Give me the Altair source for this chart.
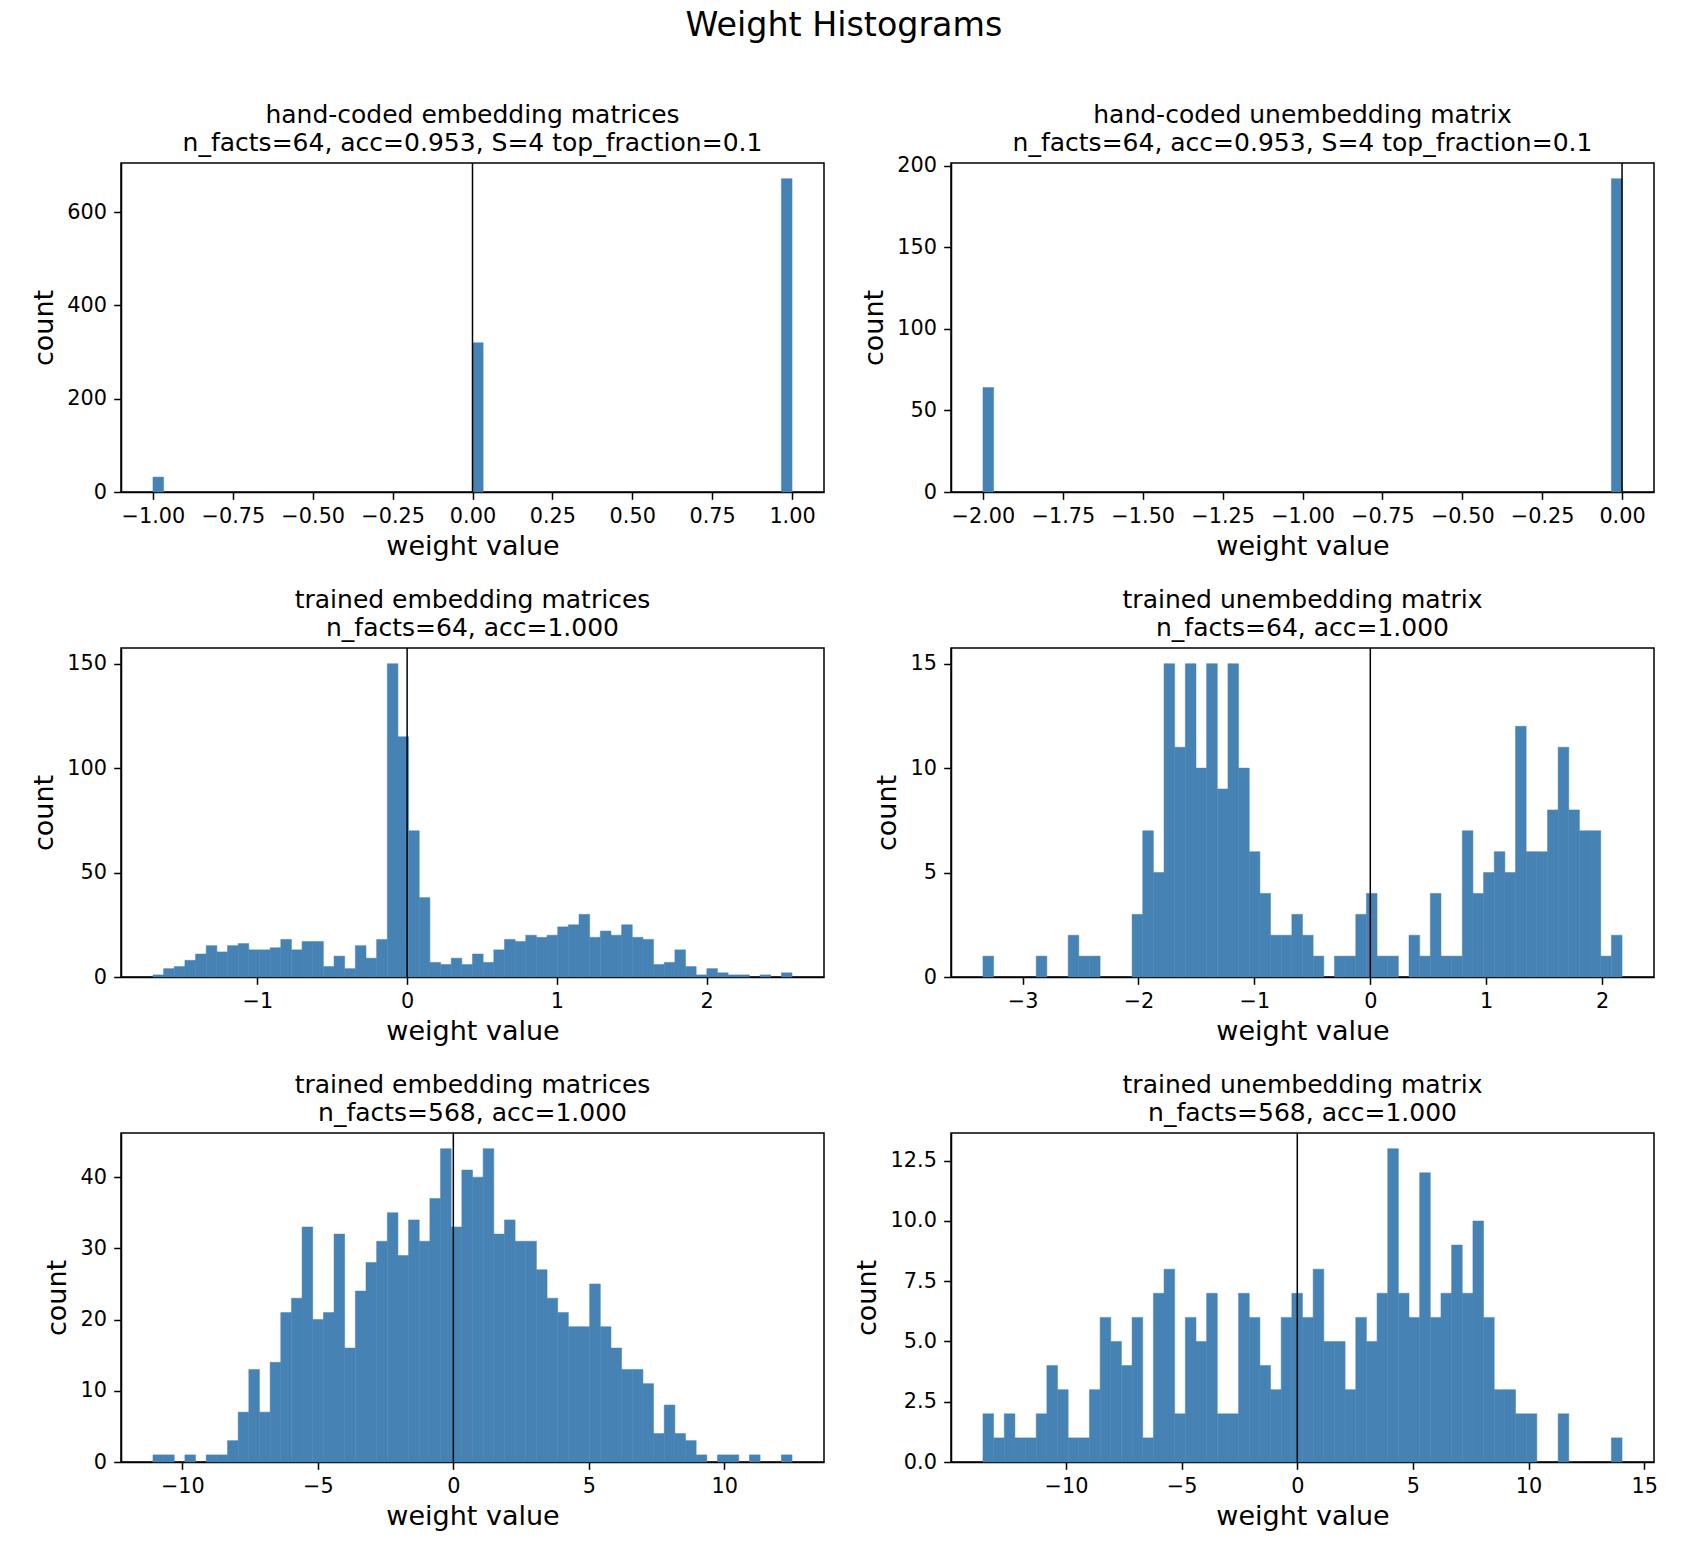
import altair as alt
import pandas as pd

FONT = "DejaVu Sans"
BAR_COLOR = "#4682b4"
N_BINS = 60

# ---- hand-coded embedding matrices: 60 bins over [-1, 1], only occupied bins listed
hc_emb_range = (-1.0, 1.0)
hc_emb_bins = [0, 30, 59]
hc_emb_counts = [32, 320, 672]

# ---- hand-coded unembedding matrix: 60 bins over [-2, 0]
hc_unemb_range = (-2.0, 0.0)
hc_unemb_bins = [0, 59]
hc_unemb_counts = [64, 192]

# ---- trained embedding matrices, n_facts=64
tr64_emb_range = (-1.697, 2.570)
tr64_emb_counts = [1, 4, 5, 8, 11, 15, 12, 15, 16, 13, 13, 14, 18, 13, 17, 17, 5, 10, 4, 15,
                   9, 18, 150, 115, 70, 38, 7, 6, 9, 6, 11, 7, 13, 18, 17, 20, 19, 20, 24, 25,
                   30, 19, 22, 20, 25, 19, 18, 6, 7, 13, 5, 1, 4, 2, 1, 1, 0, 1, 0, 2]

# ---- trained unembedding matrix, n_facts=64
tr64_unemb_range = (-3.342, 2.172)
tr64_unemb_counts = [1, 0, 0, 0, 0, 1, 0, 0, 2, 1, 1, 0, 0, 0, 3, 7, 5, 15, 11, 15,
                     10, 15, 9, 15, 10, 6, 4, 2, 2, 3, 2, 1, 0, 1, 1, 3, 4, 1, 1, 0,
                     2, 1, 4, 1, 1, 7, 4, 5, 6, 5, 12, 6, 6, 8, 11, 8, 7, 7, 1, 2]

# ---- trained embedding matrices, n_facts=568
tr568_emb_range = (-11.085, 12.50)
tr568_emb_counts = [1, 1, 0, 1, 0, 1, 1, 3, 7, 13, 7, 14, 21, 23, 33, 20, 21, 32, 16, 24,
                    28, 31, 35, 29, 34, 31, 37, 44, 33, 41, 40, 44, 32, 34, 31, 31, 27, 23, 21, 19,
                    19, 25, 19, 16, 13, 13, 11, 4, 8, 4, 3, 1, 0, 1, 1, 0, 1, 0, 0, 1]

# ---- trained unembedding matrix, n_facts=568
tr568_unemb_range = (-13.59, 14.04)
tr568_unemb_counts = [2, 1, 2, 1, 1, 2, 4, 3, 1, 1, 3, 6, 5, 4, 6, 1, 7, 8, 2, 6,
                      5, 7, 2, 2, 7, 6, 4, 3, 6, 7, 6, 8, 5, 5, 3, 6, 5, 7, 13, 7,
                      6, 12, 6, 7, 9, 7, 10, 6, 3, 3, 2, 2, 0, 0, 2, 0, 0, 0, 0, 1]

titles = [
    ["hand-coded embedding matrices", "n_facts=64, acc=0.953, S=4 top_fraction=0.1"],
    ["hand-coded unembedding matrix", "n_facts=64, acc=0.953, S=4 top_fraction=0.1"],
    ["trained embedding matrices", "n_facts=64, acc=1.000"],
    ["trained unembedding matrix", "n_facts=64, acc=1.000"],
    ["trained embedding matrices", "n_facts=568, acc=1.000"],
    ["trained unembedding matrix", "n_facts=568, acc=1.000"],
]

hc_emb_xticks = [-1.0, -0.75, -0.5, -0.25, 0.0, 0.25, 0.5, 0.75, 1.0]
hc_unemb_xticks = [-2.0, -1.75, -1.5, -1.25, -1.0, -0.75, -0.5, -0.25, 0.0]

PANEL_W = 703
PANEL_H = 329


def margin_domain(lo, hi, frac=0.05):
    pad = (hi - lo) * frac
    return [lo - pad, hi + pad]


def hist_frame(rng, bins, counts):
    lo, hi = rng
    step = (hi - lo) / N_BINS
    rows = [
        {"x0": lo + b * step, "x1": lo + (b + 1) * step, "count": c, "base": 0}
        for b, c in zip(bins, counts)
        if c > 0
    ]
    return pd.DataFrame(rows)


def panel(title, rng, bins, counts, xticks, yticks, xfmt, yfmt, title_dy=24):
    df = hist_frame(rng, bins, counts)
    xdom = margin_domain(*rng)
    ydom = [0, max(counts) * 1.05]
    xenc = alt.X(
        "x0:Q",
        title="weight value",
        scale=alt.Scale(domain=xdom, nice=False, zero=False),
        axis=alt.Axis(values=xticks, format=xfmt),
    )
    bars = alt.Chart(df).mark_rect(
        color=BAR_COLOR, stroke=BAR_COLOR, strokeWidth=0.5
    ).encode(
        x=xenc,
        x2="x1:Q",
        y=alt.Y(
            "count:Q",
            title="count",
            scale=alt.Scale(domain=ydom, nice=False),
            axis=alt.Axis(values=yticks, format=yfmt),
        ),
        y2="base:Q",
    )
    zero_line = alt.Chart(pd.DataFrame({"x0": [0.0]})).mark_rule(
        color="black", strokeWidth=1.5
    ).encode(x=alt.X("x0:Q", title="weight value"))
    return alt.layer(bars, zero_line).properties(
        width=PANEL_W,
        height=PANEL_H,
        title=alt.TitleParams(
            text=title,
            font=FONT,
            fontSize=25,
            fontWeight="normal",
            color="black",
            lineHeight=28.4,
            baseline="bottom",
            anchor="middle",
            frame="group",
            offset=5,
            dy=title_dy,
        ),
    )


panels = [
    panel(titles[0], hc_emb_range, hc_emb_bins, hc_emb_counts,
          hc_emb_xticks, [0, 200, 400, 600], ".2f", "d"),
    panel(titles[1], hc_unemb_range, hc_unemb_bins, hc_unemb_counts,
          hc_unemb_xticks, [0, 50, 100, 150, 200], ".2f", "d", title_dy=31.5),
    panel(titles[2], tr64_emb_range, list(range(N_BINS)), tr64_emb_counts,
          [-1, 0, 1, 2], [0, 50, 100, 150], "d", "d"),
    panel(titles[3], tr64_unemb_range, list(range(N_BINS)), tr64_unemb_counts,
          [-3, -2, -1, 0, 1, 2], [0, 5, 10, 15], "d", "d"),
    panel(titles[4], tr568_emb_range, list(range(N_BINS)), tr568_emb_counts,
          [-10, -5, 0, 5, 10], [0, 10, 20, 30, 40], "d", "d"),
    panel(titles[5], tr568_unemb_range, list(range(N_BINS)), tr568_unemb_counts,
          [-10, -5, 0, 5, 10, 15], [0, 2.5, 5, 7.5, 10, 12.5], "d", ".1f"),
]

chart = (
    alt.concat(*panels, columns=2, spacing={"row": 156, "column": 127}, bounds="flush")
    .properties(
        title=alt.TitleParams(
            text="Weight Histograms",
            font=FONT,
            fontSize=33.3,
            fontWeight="normal",
            color="black",
            anchor="middle",
            frame="bounds",
            offset=59,
            dx=0,
        ),
        padding={"left": 29, "top": 8, "right": 10, "bottom": 10},
        background="white",
    )
    .configure_view(stroke="black", strokeWidth=1.5)
    .configure_axis(
        grid=False,
        domainColor="black",
        domainWidth=1.5,
        tickColor="black",
        tickWidth=1.5,
        tickSize=7.3,
        labelPadding=7.3,
        labelFont=FONT,
        labelFontSize=20.8,
        labelColor="black",
        labelFlush=False,
        labelOverlap=False,
        titleFont=FONT,
        titleFontSize=27,
        titleFontWeight="normal",
        titleColor="black",
        titlePadding=8.3,
    )
    .configure_axisX(titlePadding=7)
)

chart.save("out.html", embed_options={"renderer": "svg", "actions": False})
